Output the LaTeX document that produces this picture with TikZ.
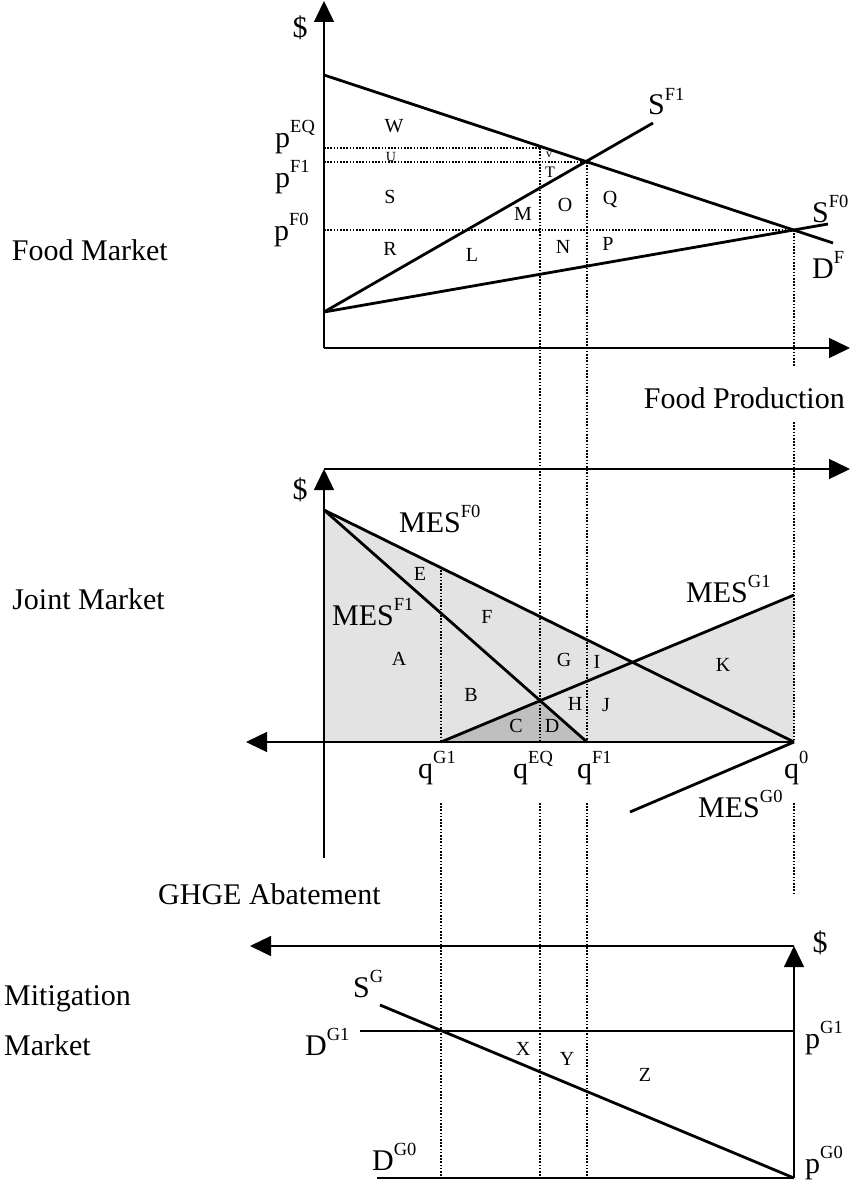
\documentclass[tikz,border=0pt]{standalone}
\usepackage{fontspec}
\setmainfont{Liberation Serif}
\usetikzlibrary{arrows.meta, positioning}

\begin{document}
\begin{tikzpicture}[x=1pt, y=-1pt]
  \newcommand\sups[1]{\raisebox{14.5pt}{\fontsize{18.5}{18.5}\selectfont #1}}

  \tikzset{axis/.style={line width=1.4pt, -{Triangle[length=21pt, width=20pt]}}}
  \tikzset{curve/.style={line width=2.8pt}}
  \tikzset{guide/.style={line width=1.3pt, dash pattern=on 1.6pt off 1.6pt}}
  \tikzset{lbl/.style={inner sep=0, anchor=base west, font=\fontsize{30}{30}\selectfont}}
  \tikzset{mkt/.style={inner sep=0, font=\fontsize{30}{30}\selectfont}}
  \tikzset{area/.style={inner sep=0, font=\fontsize{20}{20}\selectfont}}
  \tikzset{lightarea/.style={fill=black!11}}
  \tikzset{darkarea/.style={fill=black!25}}

  \useasboundingbox (0,0) rectangle (851,1188);

  % food market
  \coordinate (fo) at (324,348);
  \coordinate (fy) at (324,1);
  \coordinate (fx) at (850,348);
  \coordinate (dF-a) at (324,75);
  \coordinate (dF-b) at (833,243);
  \coordinate (sF-a) at (324,312);
  \coordinate (sF1-b) at (653,123);
  \coordinate (sF0-b) at (828,224);
  \coordinate (pEQ) at (324,148);
  \coordinate (pF1) at (324,162);
  \coordinate (pF0) at (324,230);
  \coordinate (eqT) at (540,148);
  \coordinate (f1T) at (587,162);
  \coordinate (f0T) at (794,230);

  \draw[guide] (pEQ) -- (eqT);
  \draw[guide] (pF1) -- (f1T);
  \draw[guide] (pF0) -- (f0T);
  \draw[axis] (fo) -- (fy);
  \draw[axis] (fo) -- (fx);
  \draw[curve] (dF-a) -- (dF-b);
  \draw[curve] (sF-a) -- (sF1-b);
  \draw[curve] (sF-a) -- (sF0-b);

  \node[mkt] (fdol) at (300,28) {\$};
  \node[lbl] (lpEQ) at (275,147) {p\sups{EQ}};
  \node[lbl] (lpF1) at (275,187) {p\sups{F1}};
  \node[lbl] (lpF0) at (274,240) {p\sups{F0}};
  \node[lbl] (lsF1) at (648,115) {S\sups{F1}};
  \node[lbl] (lsF0) at (812,222) {S\sups{F0}};
  \node[lbl] (ldF) at (812,278) {D\sups{F}};
  \node[mkt, anchor=base east] (fprod) at (845,408) {Food Production};
  \node[mkt, anchor=base east] (fmkt) at (168,260) {Food Market};

  \foreach \name/\px/\py in {W/394/126, S/390/197, M/523/214, O/565/205, Q/610/199,
      R/390/249, L/472/255, N/563/247, P/608/244}{
    \node[area] (a-\name) at (\px,\py) {\name};
  }
  \node[area, font=\fontsize{14}{14}\selectfont] (a-U) at (391,157) {U};
  \node[area, font=\fontsize{12}{12}\selectfont] (a-v) at (549,155) {v};
  \node[area, font=\fontsize{16}{16}\selectfont] (a-T) at (550,172) {T};

  % joint market
  \coordinate (jo) at (324,858);
  \coordinate (jtop) at (324,469);
  \coordinate (jx) at (850,469);
  \coordinate (jleft) at (246,742);
  \coordinate (jy0) at (324,742);
  \coordinate (mes) at (324,510);
  \coordinate (qG1) at (441,742);
  \coordinate (qEQ) at (540,742);
  \coordinate (qF1) at (587,742);
  \coordinate (q0) at (794,742);
  \coordinate (mesG1-b) at (794,595);
  \coordinate (mesG0-b) at (630,812);
  \coordinate (cross) at (633,662);
  \coordinate (eqJ) at (540,701);
  \coordinate (g1J) at (441,567);

  \fill[lightarea] (jy0) -- (mes) -- (cross) -- (mesG1-b) -- (q0) -- cycle;
  \fill[darkarea] (qG1) -- (eqJ) -- (qF1) -- cycle;

  \draw[guide] (eqT) -- (qEQ);
  \draw[guide] (f1T) -- (qF1);
  \draw[guide] (f0T) -- (794,367);
  \draw[guide] (794,422) -- (q0);
  \draw[guide] (g1J) -- (qG1);

  \draw[axis] (jo) -- (jtop);
  \draw[axis] (jtop) -- (jx);
  \draw[axis] (q0) -- (jleft);
  \draw[curve] (mes) -- (q0);
  \draw[curve] (mes) -- (qF1);
  \draw[curve] (qG1) -- (mesG1-b);
  \draw[curve] (q0) -- (mesG0-b);

  \node[mkt] (jdol) at (300,490) {\$};
  \node[lbl] (lmesF0) at (399,532) {MES\sups{F0}};
  \node[lbl] (lmesF1) at (332,625) {MES\sups{F1}};
  \node[lbl] (lmesG1) at (686,602) {MES\sups{G1}};
  \node[lbl] (lmesG0) at (698,817) {MES\sups{G0}};
  \node[lbl] (lqG1) at (418,778) {q\sups{G1}};
  \node[lbl] (lqEQ) at (513,778) {q\sups{EQ}};
  \node[lbl] (lqF1) at (577,778) {q\sups{F1}};
  \node[lbl] (lq0) at (784,778) {q\sups{0}};
  \node[mkt, anchor=base east] (jmkt) at (165,609) {Joint Market};
  \node[mkt, anchor=base west] (abat) at (158,904) {GHGE Abatement};

  \foreach \name/\px/\py in {A/399/659, B/471/695, C/516/726, D/552/726, E/420/574,
      F/487/617, G/564/660, H/575/704, I/597/662, J/606/705, K/723/665}{
    \node[area] (a-\name) at (\px,\py) {\name};
  }

  % mitigation market
  \coordinate (mo) at (794,1178);
  \coordinate (mtop) at (794,946);
  \coordinate (mleft) at (250,946);
  \coordinate (dG1-a) at (360,1031);
  \coordinate (dG1-b) at (794,1031);
  \coordinate (dG0-a) at (377,1178);
  \coordinate (sG-a) at (380,1005);

  \foreach \qx in {441, 540, 587}{
    \draw[guide] (\qx,803) -- (\qx,1178);
  }
  \draw[guide] (794,803) -- (794,893);

  \draw[axis] (mo) -- (mtop);
  \draw[axis] (mtop) -- (mleft);
  \draw[curve] (dG1-a) -- (dG1-b);
  \draw[curve] (dG0-a) -- (mo);
  \draw[curve] (sG-a) -- (mo);

  \node[mkt] (mdol) at (820,943) {\$};
  \node[lbl] (lsG) at (353,997) {S\sups{G}};
  \node[lbl] (ldG1) at (305,1055) {D\sups{G1}};
  \node[lbl] (ldG0) at (372,1170) {D\sups{G0}};
  \node[lbl] (lpG1) at (805,1048) {p\sups{G1}};
  \node[lbl] (lpG0) at (805,1173) {p\sups{G0}};
  \node[mkt, anchor=base west] (mmkt1) at (4,1005) {Mitigation};
  \node[mkt, anchor=base west] (mmkt2) at (4,1055) {Market};

  \foreach \name/\px/\py in {X/523/1049, Y/567/1059, Z/645/1075}{
    \node[area] (a-\name) at (\px,\py) {\name};
  }
\end{tikzpicture}
\end{document}
